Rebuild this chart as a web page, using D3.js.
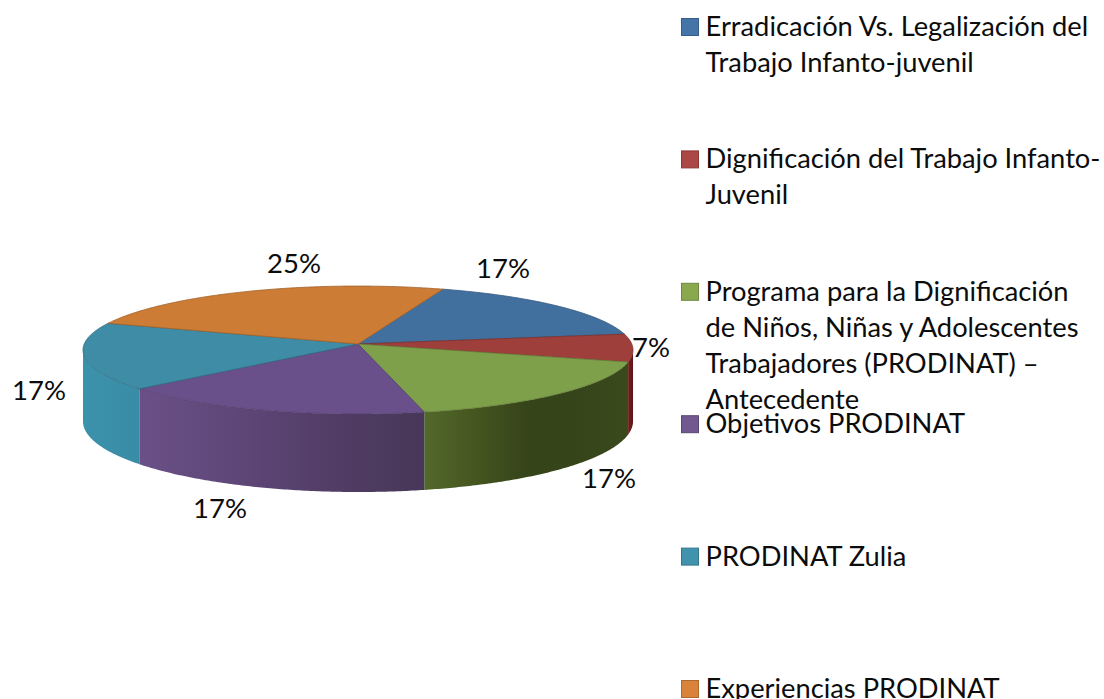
<!DOCTYPE html>
<html lang="es">
<head>
    <meta charset="UTF-8">
    <title>PRODINAT</title>
    <script src="https://d3js.org/d3.v7.min.js"></script>
    <style>
        html, body { margin: 0; padding: 0; background: #fff; }
        svg { display: block; }
        text { font-family: Lato, "Open Sans", sans-serif; fill: #0c0c0c; }
    </style>
</head>
<body>
    <script>
        // chart data
        const values = [17, 7, 17, 17, 17, 25];
        const valueLabels = ["17%", "7%", "17%", "17%", "17%", "25%"];
        const legendLines = [
            ["Erradicación Vs. Legalización del", "Trabajo Infanto-juvenil"],
            ["Dignificación del Trabajo Infanto-", "Juvenil"],
            ["Programa para la Dignificación", "de Niños, Niñas y Adolescentes", "Trabajadores (PRODINAT) –", "Antecedente"],
            ["Objetivos PRODINAT"],
            ["PRODINAT Zulia"],
            ["Experiencias PRODINAT"]
        ];
        const topColors = ["#41709f", "#9e3f3c", "#7fa04a", "#69508a", "#3e8ca6", "#cd7c35"];
        const swatchColors = ["#4474a8", "#ab4744", "#8aa94f", "#71588f", "#4193ad", "#d8823a"];
        const wallShades = [
            ["#35597f", "#2b4766"],
            ["#7a1f1f", "#5c1515"],
            ["#53682b", "#45561f", "#36441a", "#36441a", "#3a4a1c"],
            ["#6a5086", "#5f4779", "#523d66", "#483758"],
            ["#3c92ab", "#3a8ca6"],
            ["#b56a2a", "#a05c22"]
        ];

        const width = 1104, height = 699;

        // perspective of the disc: unit circle -> screen
        const startDeg = 19.7;
        const tilt = 0.094;
        const depth = 70.7;
        const xScale = d3.scaleLinear().domain([-1, 1]).range([358 - 273.8, 358 + 273.8]);
        const yScale = d3.scaleLinear().domain([-1, 1]).range([344 + 63.4, 344 - 63.4]);

        function project(angle, lowered) {
            const u = Math.sin(angle), v = Math.cos(angle);
            const w = 1 + tilt * v;
            return [xScale(u / w), yScale(v / w) + (lowered ? depth / w : 0)];
        }

        function sampleAngles(a0, a1) {
            const n = Math.max(2, Math.ceil((a1 - a0) / 0.01));
            return d3.range(n + 1).map(i => a0 + (a1 - a0) * i / n);
        }

        const pie = d3.pie().sort(null).value(d => d)
            .startAngle(startDeg * Math.PI / 180)
            .endAngle(startDeg * Math.PI / 180 + 2 * Math.PI);
        const slices = pie(values);
        const line = d3.line();

        const svg = d3.select("body").append("svg")
            .attr("width", width)
            .attr("height", height);

        const defs = svg.append("defs");
        // the disc's silhouette: cos(a) = -tilt
        const frontFrom = Math.acos(-tilt), frontTo = 2 * Math.PI - frontFrom;

        // walls first, only the part that faces us
        slices.forEach(function(s, i) {
            const a0 = Math.max(s.startAngle, frontFrom);
            const a1 = Math.min(s.endAngle, frontTo);
            if (a1 <= a0) return;

            const angles = sampleAngles(a0, a1);
            const upper = angles.map(a => project(a, false));
            const lower = angles.map(a => project(a, true)).reverse();

            const grad = defs.append("linearGradient")
                .attr("id", "wall" + i)
                .attr("gradientUnits", "userSpaceOnUse")
                .attr("x1", d3.min(upper, p => p[0])).attr("x2", d3.max(upper, p => p[0]))
                .attr("y1", 0).attr("y2", 0);
            wallShades[i].forEach(function(c, k) {
                grad.append("stop")
                    .attr("offset", k / (wallShades[i].length - 1))
                    .attr("stop-color", c);
            });

            svg.append("path")
                .attr("d", line(upper.concat(lower)) + "Z")
                .attr("fill", "url(#wall" + i + ")");
        });

        // top of the disc
        slices.forEach(function(s, i) {
            const rim = sampleAngles(s.startAngle, s.endAngle).map(a => project(a, false));
            const apex = [xScale(0), yScale(0)];
            svg.append("path")
                .attr("d", line([apex].concat(rim)) + "Z")
                .attr("fill", topColors[i])
                .attr("stroke", d3.color(topColors[i]).darker(0.7))
                .attr("stroke-width", 0.8)
                .attr("stroke-linejoin", "round");
        });

        // data labels
        const labelX = [503, 651, 609, 220, 39, 294];
        const labelY = [278, 357, 488, 518, 400, 273];
        svg.selectAll(".value-label")
            .data(valueLabels)
            .enter().append("text")
            .attr("class", "value-label")
            .attr("x", (d, i) => labelX[i])
            .attr("y", (d, i) => labelY[i])
            .attr("text-anchor", "middle")
            .style("font-size", "27.5px")
            .text(d => d);

        // legend
        const legendY = d3.scalePoint()
            .domain(d3.range(legendLines.length))
            .range([36, 698]);

        const entry = svg.selectAll(".legend")
            .data(legendLines)
            .enter().append("g")
            .attr("class", "legend")
            .attr("transform", (d, i) => "translate(681," + legendY(i) + ")");

        entry.append("rect")
            .attr("x", 0.5).attr("y", -17.5)
            .attr("width", 17).attr("height", 17)
            .attr("fill", (d, i) => swatchColors[i])
            .attr("stroke", (d, i) => d3.color(swatchColors[i]).darker(0.6))
            .attr("stroke-width", 1);

        entry.each(function(lines) {
            d3.select(this).selectAll("text")
                .data(lines)
                .enter().append("text")
                .attr("x", 24.5)
                .attr("y", (d, k) => k * 36)
                .style("font-size", "27.3px")
                .text(d => d);
        });
    </script>
</body>
</html>
